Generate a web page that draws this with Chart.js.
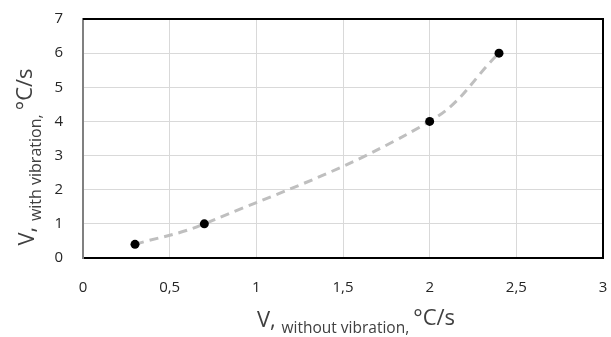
<!DOCTYPE html>
<html>
<head>
<meta charset="utf-8">
<script src="https://cdn.jsdelivr.net/npm/chart.js@4"></script>
<style>
html,body{margin:0;padding:0;background:#fff;}
#wrap{width:611px;height:337px;position:relative;}
</style>
</head>
<body>
<div id="wrap"><canvas id="c" width="611" height="337"></canvas></div>
<script>
const xValues = [0.3, 0.7, 2, 2.4];
const yValues = [0.4, 1, 4, 6];
const xTitleParts = ["V, ", "without vibration, ", "°C/s"];
const yTitleParts = ["V, ", "with vibration, ", "°C/s"];
const xRange = [0, 3, 0.5];
const yRange = [0, 7, 1];

const FONT = "'Open Sans', 'DejaVu Sans', sans-serif";

const points = xValues.map((x, i) => ({x: x, y: yValues[i]}));

function drawTitle(ctx, parts, mainSize, subSize, subDrop) {
  ctx.font = mainSize + "px " + FONT;
  const w0 = ctx.measureText(parts[0]).width;
  const w2 = ctx.measureText(parts[2]).width;
  ctx.font = subSize + "px " + FONT;
  const w1 = ctx.measureText(parts[1]).width;
  const total = w0 + w1 + w2;
  let x = -total / 2;
  ctx.textBaseline = "alphabetic";
  ctx.textAlign = "left";
  ctx.font = mainSize + "px " + FONT;
  ctx.fillText(parts[0], x, 0); x += w0;
  ctx.font = subSize + "px " + FONT;
  ctx.fillText(parts[1], x, subDrop); x += w1;
  ctx.font = mainSize + "px " + FONT;
  ctx.fillText(parts[2], x, -2);
}

const framePlugin = {
  id: 'frame',
  afterDraw(chart) {
    const ctx = chart.ctx;
    const a = chart.chartArea;
    ctx.save();
    ctx.strokeStyle = "#000";
    ctx.lineWidth = 2;
    ctx.beginPath();
    ctx.moveTo(a.left, a.top);
    ctx.lineTo(a.right, a.top);
    ctx.lineTo(a.right, a.bottom);
    ctx.stroke();
    ctx.fillStyle = "#404040";
    ctx.save();
    ctx.translate((a.left + a.right) / 2 + 13, 327);
    drawTitle(ctx, xTitleParts, 22, 15.5, 6);
    ctx.restore();
    ctx.save();
    ctx.translate(34, 157);
    ctx.rotate(-Math.PI / 2);
    drawTitle(ctx, yTitleParts, 22, 16, 7);
    ctx.restore();
    ctx.restore();
  }
};

new Chart(document.getElementById('c'), {
  type: 'scatter',
  data: {
    datasets: [{
      data: points,
      showLine: true,
      tension: 0.4,
      borderColor: '#bfbfbf',
      borderWidth: 3,
      borderDash: [9, 6],
      pointBackgroundColor: '#000',
      pointBorderColor: '#000',
      pointRadius: 4.5,
      pointBorderWidth: 0
    }]
  },
  options: {
    responsive: false,
    animation: false,
    devicePixelRatio: 1,
    layout: {padding: {left: 0, right: 8, top: 19, bottom: 0}},
    plugins: {legend: {display: false}, tooltip: {enabled: false}},
    scales: {
      x: {
        type: 'linear',
        min: xRange[0], max: xRange[1],
        afterFit(s) { s.height = 79; s.paddingLeft = 0; s.paddingRight = 0; },
        ticks: {
          stepSize: xRange[2],
          padding: 21,
          color: '#262626',
          font: {family: FONT, size: 15},
          callback: v => String(v).replace('.', ',')
        },
        grid: {color: '#d9d9d9', lineWidth: 1, drawTicks: false},
        border: {color: '#000', width: 2}
      },
      y: {
        type: 'linear',
        min: yRange[0], max: yRange[1],
        afterFit(s) { s.width = 83; s.paddingTop = 0; s.paddingBottom = 0; },
        ticks: {
          stepSize: yRange[2],
          padding: 20,
          color: '#262626',
          font: {family: FONT, size: 15},
          callback: v => String(v).replace('.', ',')
        },
        grid: {color: '#d9d9d9', lineWidth: 1, drawTicks: false},
        border: {color: '#808080', width: 2}
      }
    }
  },
  plugins: [framePlugin]
});
</script>
</body>
</html>
